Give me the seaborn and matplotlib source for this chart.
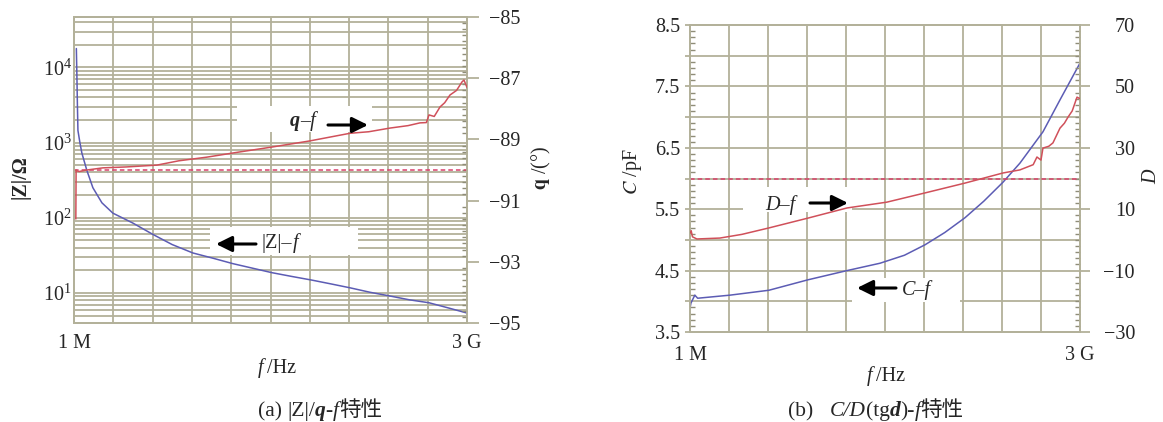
import numpy as np
import matplotlib
matplotlib.use("Agg")
import matplotlib.pyplot as plt
import seaborn as sns
from matplotlib.patches import Rectangle
from matplotlib.transforms import IdentityTransform
from matplotlib.ticker import LogLocator, NullFormatter, MultipleLocator

# ---------------- data (frequency in MHz) ----------------
freq_z = [19, 23, 27, 31, 46, 61, 99, 145, 214, 298, 450, 603, 750, 908, 1060, 1214,
          1360, 1511, 1660, 1817, 1960, 2107, 2260, 2412, 2560, 2710, 2860, 3000]
z_mag = [17800, 7940, 3160, 1450, 1000, 725, 427, 251, 158, 115, 85, 60, 44, 34, 29, 24.5,
         21.4, 18.6, 16.6, 14.8, 13.2, 11.7, 10.2, 9.1, 8.1, 7.4, 6.3, 5.4]

freq_theta = [15, 17, 19, 40, 100, 221, 400, 634, 800, 1015, 1250, 1511, 1800, 2107, 2250,
              2412, 2550, 2641, 2690, 2710, 2750, 2794, 2830, 2870, 2920, 2962, 2977, 3000]
theta = [-91.6, -90.0, -90.02, -90.05, -90.0, -89.93, -89.9, -89.84, -89.7, -89.58, -89.42,
         -89.25, -89.05, -88.8, -88.75, -88.63, -88.55, -88.46, -88.45, -88.2, -88.25, -87.94,
         -87.8, -87.55, -87.4, -87.12, -87.06, -87.3]
theta_ref = -90

freq_c = [2, 8, 38, 60, 308, 608, 908, 1208, 1462, 1650, 1808, 1960, 2115, 2260, 2408,
          2538, 2715, 2846, 3000]
cap = [3.9, 3.97, 4.1, 4.05, 4.1, 4.18, 4.35, 4.5, 4.62, 4.75, 4.92, 5.12, 5.36, 5.63, 5.94,
       6.25, 6.76, 7.28, 7.88]

freq_d = [2, 10, 20, 54, 231, 400, 608, 908, 1208, 1515, 1808, 2115, 2408, 2538, 2592, 2640,
          2669, 2700, 2715, 2760, 2792, 2846, 2880, 2908, 2940, 2977, 3000]
diss = [2.2, 3.0, 1.0, 0.3, 0.6, 1.8, 3.9, 7.1, 10.4, 12.3, 15.3, 18.5, 21.8, 22.8, 23.7, 24.5,
        27.0, 26.0, 29.9, 30.5, 31.6, 36.4, 38.0, 40.0, 42.0, 46.5, 46.0]
d_ref = 20

x_range = (1, 3000)
x_tick_text = ["1 M", "3 G"]
z_ticks = [10, 100, 1000, 10000]
theta_ticks = [-95, -93, -91, -89, -87, -85]
c_ticks = [3.5, 4.5, 5.5, 6.5, 7.5, 8.5]
d_ticks = [-30, -10, 10, 30, 50, 70]

# ---------------- style ----------------
sns.set_theme(style="white")
plt.rcParams["font.family"] = ["Liberation Serif", "Noto Sans CJK SC"]
plt.rcParams["mathtext.fontset"] = "stix"
plt.rcParams["axes.unicode_minus"] = True

GRID = "#b3b19a"
BLUE = "#5c5cb4"
RED = "#d0505a"
RED_D = "#d8406a"
FS = 14.5

W, H = 1163, 422
fig = plt.figure(figsize=(W / 100, H / 100), dpi=100)
fig.patch.set_facecolor("white")


def px_axes(x0, y0, x1, y1):
    return fig.add_axes([x0 / W, 1 - y1 / H, (x1 - x0) / W, (y1 - y0) / H])


def style_spines(ax):
    for s in ax.spines.values():
        s.set_color(GRID)
        s.set_linewidth(1.3)


def setup_x(ax, pad):
    grid_x = np.linspace(x_range[0], x_range[1], 11)
    ax.set_xlim(*x_range)
    ax.set_xticks(grid_x)
    ax.set_xticklabels([x_tick_text[0]] + [""] * 9 + [x_tick_text[1]], fontsize=FS)
    ax.tick_params(axis="x", length=0, pad=pad)
    ax.xaxis.grid(True, color=GRID, lw=1.3)


# ================= panel (a) =================
axL = px_axes(74, 17, 467, 323)
setup_x(axL, 8)
axL.set_yscale("log")
axL.set_ylim(10 ** 0.6, 10 ** 4.67)
axL.set_yticks(z_ticks)
axL.yaxis.set_minor_locator(LogLocator(base=10, subs=np.arange(2, 10)))
axL.yaxis.set_minor_formatter(NullFormatter())
axL.yaxis.grid(True, which="both", color=GRID, lw=1.3)
axL.tick_params(axis="y", which="both", length=0, pad=1.5, labelsize=FS)
axL.set_axisbelow(True)
style_spines(axL)

axL2 = axL.twinx()
axL2.set_ylim(-95, -85)
axL2.set_yticks(theta_ticks)
axL2.set_yticklabels([f"\u2212{abs(v)}" for v in theta_ticks], fontsize=FS)
axL2.yaxis.set_minor_locator(MultipleLocator(0.2))
axL2.tick_params(axis="y", which="major", direction="out", length=8.6, width=1.3,
                 color=GRID, pad=7.5)
axL2.tick_params(axis="y", which="minor", direction="in", length=3.5, width=1.0, color="#8f8d78")
style_spines(axL2)

# white label boxes (drawn inside the bottom axes so grid is hidden)
for (x0, y0, x1, y1) in [(237, 106, 372, 132), (210, 227, 358, 255)]:
    axL.add_patch(Rectangle((x0, H - y1), x1 - x0, y1 - y0, transform=IdentityTransform(),
                            facecolor="white", edgecolor="none", zorder=1.5))

sns.lineplot(x=freq_z, y=z_mag, ax=axL, color=BLUE, lw=1.1, estimator=None, sort=False, zorder=3)
sns.lineplot(x=freq_theta, y=theta, ax=axL2, color=RED, lw=1.1, estimator=None, sort=False, zorder=3)
axL2.axhline(theta_ref, color=RED_D, lw=1.1, ls=(0, (3, 2)), zorder=2)
axL.set_xlabel(""); axL.set_ylabel(""); axL2.set_ylabel("")

# ================= panel (b) =================
axR = px_axes(690, 25, 1080, 332)
setup_x(axR, 10)
axR.set_ylim(3.5, 8.5)
axR.set_yticks(np.arange(3.5, 8.51, 0.5))
axR.set_yticklabels([f"{v:.1f}" if (v in c_ticks) else "" for v in np.arange(3.5, 8.51, 0.5)],
                    fontsize=FS)
axR.yaxis.set_minor_locator(MultipleLocator(0.1))
axR.yaxis.grid(True, color=GRID, lw=1.3)
axR.tick_params(axis="y", which="major", direction="out", length=3.6, width=1.3, color=GRID, pad=3.6)
axR.tick_params(axis="y", which="minor", direction="in", length=3.5, width=1.0, color="#8f8d78")
axR.set_axisbelow(True)
style_spines(axR)

axR2 = axR.twinx()
axR2.set_ylim(-30, 70)
axR2.set_yticks(d_ticks)
axR2.set_yticklabels([f"\u2212{abs(v)}" if v < 0 else f"{v}" for v in d_ticks], fontsize=FS)
for t in axR2.get_yticklabels():
    t.set_horizontalalignment("right")
axR2.yaxis.set_minor_locator(MultipleLocator(2))
axR2.tick_params(axis="y", which="major", direction="out", length=7.2, width=1.3,
                 color=GRID, pad=32.4)
axR2.tick_params(axis="y", which="minor", direction="in", length=3.5, width=1.0, color="#8f8d78")
style_spines(axR2)

for (x0, y0, x1, y1) in [(743, 187, 852, 212), (852, 278, 960, 302)]:
    axR.add_patch(Rectangle((x0, H - y1), x1 - x0, y1 - y0, transform=IdentityTransform(),
                            facecolor="white", edgecolor="none", zorder=1.5))

sns.lineplot(x=freq_c, y=cap, ax=axR, color=BLUE, lw=1.1, estimator=None, sort=False, zorder=3)
sns.lineplot(x=freq_d, y=diss, ax=axR2, color=RED, lw=1.1, estimator=None, sort=False, zorder=3)
axR2.axhline(d_ref, color=RED_D, lw=1.1, ls=(0, (3, 2)), zorder=2)
axR.set_xlabel(""); axR.set_ylabel(""); axR2.set_ylabel("")

# ================= texts =================
renderer = fig.canvas.get_renderer()


def rich(pieces, xc, base_y, size=FS):
    items, total = [], 0.0
    for p in pieces:
        if p[0] == "gap":
            items.append((None, p[1])); total += p[1]; continue
        s, kw = p
        t = fig.text(0, 0, s, fontsize=size, ha="left", va="baseline",
                     transform=IdentityTransform(), **kw)
        w = t.get_window_extent(renderer).width
        items.append((t, w)); total += w
    x = xc - total / 2
    for t, w in items:
        if t is not None:
            t.set_position((x, H - base_y))
        x += w


IT = {"style": "italic"}
BI = {"style": "italic", "weight": "bold"}
RG = {}
CJK = {"family": "Noto Sans CJK SC"}

rich([("q", BI), ("\u2013f", IT)], 303, 126)
rich([("|Z|\u2013", RG), ("f", IT)], 280, 248)
rich([("D\u2013f", IT)], 780, 210)
rich([("C\u2013f", IT)], 916, 295)

rich([("f", IT), ("gap", 4), ("/Hz", RG)], 277, 373)
rich([("f", IT), ("gap", 4), ("/Hz", RG)], 886, 381)

rich([("(a)", RG), ("gap", 5), ("|Z|/", RG), ("q", BI), ("-", RG), ("f", IT), ("特性", CJK)],
     320, 416, size=15.5)
rich([("(b)", RG), ("gap", 16), ("C/D", IT), ("(tg", RG), ("d", BI), (")-", RG), ("f", IT),
      ("特性", CJK)], 876, 416, size=15.5)

fig.text(20 / W, 1 - 177 / H, "|Z|/\u03a9", rotation=90, ha="center", va="center",
         fontsize=FS, fontweight="bold")
fig.text(541 / W, 1 - 168 / H, r"$\mathbf{q}$ /(°)", rotation=90, ha="center", va="center",
         fontsize=FS)
fig.text(632 / W, 1 - 172 / H, r"$\mathit{C}$ /pF", rotation=90, ha="center", va="center",
         fontsize=FS)
fig.text(1152 / W, 1 - 177 / H, "D", rotation=90, ha="center", va="center",
         fontsize=FS, style="italic")

# arrows (figure pixel coords)
arrow_kw = dict(arrowstyle="-|>,head_length=0.95,head_width=0.47", color="black", lw=2.2,
                mutation_scale=10, shrinkA=0, shrinkB=0)
for (xs, ys, xe, ye) in [(328, 125, 368, 125), (256, 244, 216, 244),
                         (810, 203, 848, 203), (896, 288, 857, 288)]:
    fig.add_artist(matplotlib.patches.FancyArrowPatch((xs, H - ys), (xe, H - ye),
                                                      transform=IdentityTransform(), **arrow_kw))

fig.savefig("out.png", dpi=100, facecolor="white")
